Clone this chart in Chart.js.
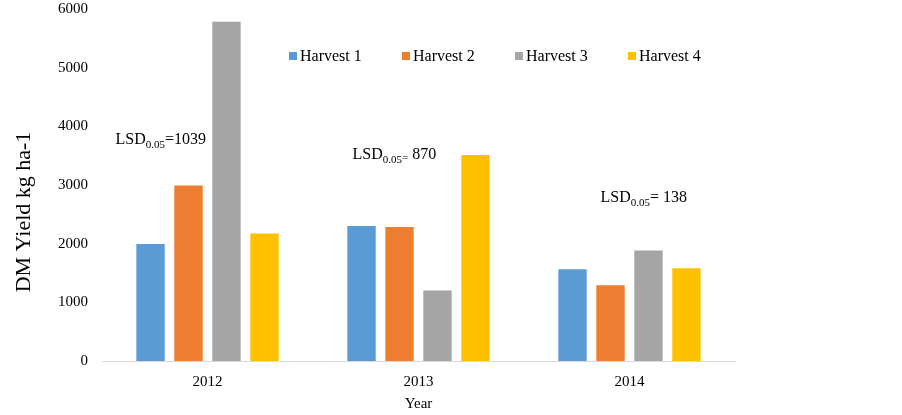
<!DOCTYPE html>
<html>
<head>
<meta charset="utf-8">
<script src="https://cdn.jsdelivr.net/npm/chart.js@4"></script>
<style>
html,body{margin:0;padding:0;background:#fff;}
#wrap{width:902px;height:415px;position:relative;}
</style>
</head>
<body>
<div id="wrap"><canvas id="c" width="902" height="415"></canvas></div>
<script>
const years = ['2012', '2013', '2014'];
const seriesNames = ['Harvest 1', 'Harvest 2', 'Harvest 3', 'Harvest 4'];
const harvest1 = [2010, 2320, 1580];
const harvest2 = [3010, 2300, 1310];
const harvest3 = [5800, 1220, 1900];
const harvest4 = [2190, 3530, 1600];
const colors = ['#5b9bd5', '#ed7d31', '#a5a5a5', '#ffc000'];
const lsdLabels = [
  {main: 'LSD', sub: '0.05', rest: '=1039'},
  {main: 'LSD', sub: '0.05', rest: '= 870'},
  {main: 'LSD', sub: '0.05', rest: '= 138'}
];
const yTitle = 'DM Yield kg ha-1';
const xTitle = 'Year';

const FONT = '"Liberation Serif", "Times New Roman", serif';
const allSeries = [harvest1, harvest2, harvest3, harvest4];

const overlay = {
  id: 'overlay',
  afterDraw(chart) {
    const ctx = chart.ctx;
    const area = chart.chartArea;
    const xs = chart.scales.x;
    const ys = chart.scales.y;
    ctx.save();
    // legend
    ctx.font = '16px ' + FONT;
    ctx.textBaseline = 'middle';
    ctx.fillStyle = '#000';
    const legY = 56;
    const legX0 = area.left + 188;
    const legStep = 113;
    chart.data.datasets.forEach((ds, i) => {
      const x = legX0 + i * legStep;
      ctx.fillStyle = ds.backgroundColor;
      ctx.fillRect(x - 1, legY - 4, 8, 8);
      ctx.fillStyle = '#000';
      ctx.textAlign = 'left';
      ctx.fillText(ds.label, x + 10, legY + 1);
    });
    // LSD annotations
    const lsdPos = [
      {dx: -92, val: 3780},
      {dx: -66, val: 3535},
      {dx: -29, val: 2800}
    ];
    lsdLabels.forEach((l, i) => {
      let x = xs.getPixelForValue(i) + lsdPos[i].dx;
      const y = ys.getPixelForValue(lsdPos[i].val);
      ctx.textAlign = 'left';
      ctx.textBaseline = 'alphabetic';
      ctx.font = '16px ' + FONT;
      ctx.fillText(l.main, x, y + 5);
      x += ctx.measureText(l.main).width;
      ctx.font = '11px ' + FONT;
      ctx.fillText(l.sub, x, y + 9);
      x += ctx.measureText(l.sub).width;
      if (i === 1) {
        ctx.font = '11px ' + FONT;
        ctx.fillText('=', x, y + 7);
        x += ctx.measureText('=').width;
        ctx.font = '16px ' + FONT;
        ctx.fillText(l.rest.slice(1), x, y + 5);
      } else {
        ctx.font = '16px ' + FONT;
        ctx.fillText(l.rest, x, y + 5);
      }
    });
    // y axis title
    ctx.font = '22px ' + FONT;
    ctx.textAlign = 'center';
    ctx.textBaseline = 'middle';
    ctx.translate(24, 212);
    ctx.rotate(-Math.PI / 2);
    ctx.fillText(yTitle, 0, 0);
    ctx.restore();
  }
};

new Chart(document.getElementById('c'), {
  type: 'bar',
  data: {
    labels: years,
    datasets: seriesNames.map((n, i) => ({
      label: n,
      data: allSeries[i],
      backgroundColor: colors[i],
      borderColor: '#ffffff',
      borderWidth: 1,
      barPercentage: 0.8,
      categoryPercentage: 0.72
    }))
  },
  options: {
    responsive: false,
    animation: false,
    devicePixelRatio: 1,
    layout: {padding: {left: 0, right: 167, top: 9, bottom: 0}},
    plugins: {legend: {display: false}, tooltip: {enabled: false}},
    scales: {
      x: {
        grid: {display: false, drawTicks: false},
        border: {display: true, color: '#d9d9d9', width: 1},
        ticks: {color: '#000', font: {family: FONT, size: 15}, padding: 12},
        title: {display: true, text: xTitle, color: '#000', font: {family: FONT, size: 15}, padding: {top: 0, bottom: 2}},
        afterFit(s) { s.height = 54; s.paddingLeft = 0; s.paddingRight = 0; }
      },
      y: {
        min: 0, max: 6000,
        grid: {display: false, drawTicks: false},
        border: {display: false},
        ticks: {stepSize: 1000, color: '#000', font: {family: FONT, size: 15}, padding: 14,
          callback: (v) => String(v)},
        afterFit(s) { s.width = 102; s.paddingTop = 0; s.paddingBottom = 0; }
      }
    }
  },
  plugins: [overlay]
});
</script>
</body>
</html>
